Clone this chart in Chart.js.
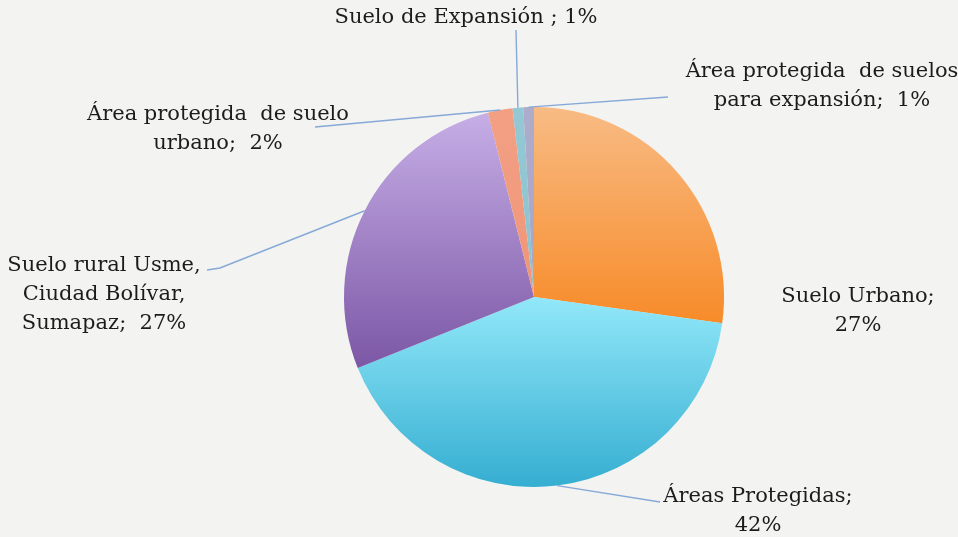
<!DOCTYPE html>
<html><head><meta charset="utf-8">
<script src="https://cdn.jsdelivr.net/npm/chart.js@4"></script>
<style>html,body{margin:0;padding:0;background:#f3f3f1}#wrap{width:958px;height:537px}</style>
</head><body><div id="wrap"><canvas id="c" width="958" height="537"></canvas></div>
<script>
const categories = ["Suelo Urbano", "Áreas Protegidas", "Suelo rural Usme, Ciudad Bolívar, Sumapaz", "Área protegida de suelo urbano", "Suelo de Expansión ", "Área protegida de suelos para expansión"];
const values = [27.2, 41.7, 27.2, 2.1, 0.9, 0.9];
// label line breaks (text layout), "{p}" placeholder replaced with rounded percentage
const labelLines = [
  ["Suelo Urbano;", "{p}"],
  ["Áreas Protegidas;", "{p}"],
  ["Suelo rural Usme,", "Ciudad Bolívar,", "Sumapaz;  {p}"],
  ["Área protegida  de suelo", "urbano;  {p}"],
  ["Suelo de Expansión ; {p}"],
  ["Área protegida  de suelos", "para expansión;  {p}"]
];
// label anchor (center x, first line y) and leader line bend points
const labelPos = [
  {x: 858, y: 297, line: null},
  {x: 758, y: 497, line: [[660, 502]]},
  {x: 104, y: 266, line: [[220, 268], [207, 270]]},
  {x: 218, y: 115, line: [[315, 127]]},
  {x: 466, y: 18,  line: [[516, 30]]},
  {x: 822, y: 72,  line: [[668, 97]]}
];
const gradStops = [
  [[0, "#f8bb84"], [0.58, "#f78a27"]],
  [[0.5, "#92e8f9"], [1, "#35aed1"]],
  [[0, "#c8b0e8"], [0.7, "#7a55a4"]],
  [[0, "#f2a084"], [1, "#ee8a6c"]],
  [[0, "#93c8d4"], [1, "#86bccb"]],
  [[0, "#aeaccb"], [1, "#a0a0c4"]]
];

const total = values.reduce((a, b) => a + b, 0);

const labelPlugin = {
  id: "labels",
  beforeDraw(chart) {
    const ctx = chart.ctx;
    ctx.save();
    ctx.fillStyle = "#f3f3f1";
    ctx.fillRect(0, 0, chart.width, chart.height);
    ctx.restore();
  },
  afterDraw(chart) {
    const ctx = chart.ctx;
    const meta = chart.getDatasetMeta(0);
    ctx.save();
    meta.data.forEach((arc, i) => {
      const p = labelPos[i];
      if (p.line) {
        const mid = (arc.startAngle + arc.endAngle) / 2;
        const sx = arc.x + Math.cos(mid) * arc.outerRadius;
        const sy = arc.y + Math.sin(mid) * arc.outerRadius;
        ctx.beginPath();
        ctx.strokeStyle = "#86a9d8";
        ctx.lineWidth = 1.4;
        ctx.moveTo(sx, sy);
        p.line.forEach(pt => ctx.lineTo(pt[0], pt[1]));
        ctx.stroke();
      }
      const pct = Math.round(values[i] / total * 100) + "%";
      ctx.fillStyle = "#1c1c1c";
      ctx.font = "21px 'DejaVu Serif'";
      ctx.textAlign = "center";
      ctx.textBaseline = "middle";
      labelLines[i].forEach((ln, k) => {
        ctx.fillText(ln.replace("{p}", pct), p.x, p.y + k * 29);
      });
    });
    ctx.restore();
  }
};

new Chart(document.getElementById("c"), {
  type: "pie",
  data: {
    labels: categories,
    datasets: [{
      data: values,
      borderWidth: 0,
      backgroundColor(context) {
        const chart = context.chart;
        const a = chart.chartArea;
        if (!a) return gradStops[context.dataIndex][0][1];
        const g = chart.ctx.createLinearGradient(0, a.top, 0, a.bottom);
        gradStops[context.dataIndex].forEach(s => g.addColorStop(s[0], s[1]));
        return g;
      }
    }]
  },
  options: {
    responsive: false,
    animation: false,
    layout: {padding: {left: 344, right: 234, top: 107, bottom: 50}},
    plugins: {legend: {display: false}, tooltip: {enabled: false}}
  },
  plugins: [labelPlugin]
});
</script></body></html>
